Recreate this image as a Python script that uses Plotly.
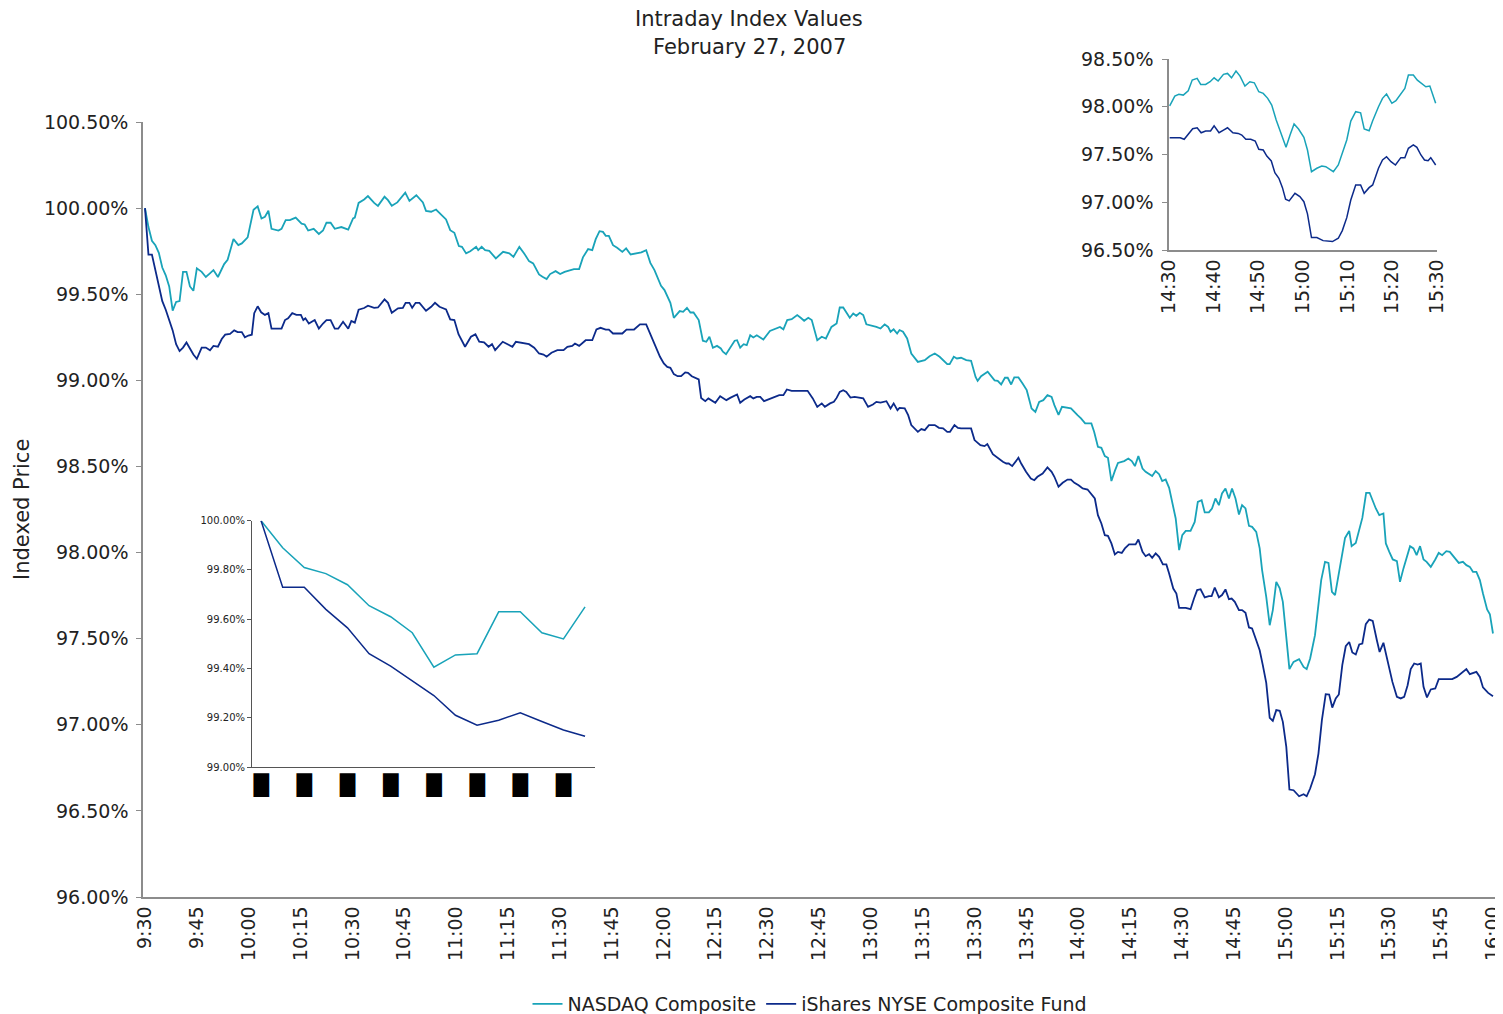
import plotly.graph_objects as go

# ---------------- data (minutes after 9:30, indexed value in %) ----------------
nasdaq_t = [0, 1, 2, 3, 4, 5, 6, 7, 8, 9, 10, 11, 12, 13, 14, 15,
            16.4, 17.6, 18.7, 19.8, 21.1, 22.9, 23.9, 25.6, 27, 28, 29.7, 31.4, 32.6, 33.7, 34.7, 35.7, 36.6, 38.6, 39.5,
            40.7, 41.9, 43.6, 45.3, 46.2, 47.2, 48.8, 50.3, 51.5, 52.5, 53.7, 54.9, 56.8, 58.8, 60.2, 60.7, 61.8, 63.4,
            64.5, 66.3, 67.4, 69.3, 70.3, 71.4, 73, 75.3, 76.5, 78.5, 80.4, 81.3, 82.8, 84.2, 85.7, 87.1, 88.3, 89.5,
            90.8, 91.7, 92.9, 94.1, 95.8, 96.4, 97.4, 98.4, 99.6, 101.5, 103.6, 105.4, 106.6, 108.3, 109.7, 111.1, 112.3,
            114, 115, 116.2, 117.2, 118.8, 120.1, 121.4, 124.1, 125.6, 126.7, 128.2, 129.4, 130.4, 131.5, 132.5, 133.3,
            134.2, 135.4, 136.6, 138.1, 139.2, 140.5, 142.4, 143.6, 145, 146.2, 147.4, 149.3, 150.3, 152, 153, 154.7,
            155.7, 156.8, 157.8, 158.7, 160.2, 161.4, 162.4, 163.3, 164.3, 165.5, 166.6, 167.2, 168.1, 169.1, 170.6,
            171.3, 172.2, 173.2, 174.1, 175.1, 176, 177, 178.9, 180.8, 182.3, 183.7, 184.7, 185.8, 187.1, 188.7, 189.7,
            190.7, 191.9, 192.9, 194.5, 195.8, 197, 198.6, 200.1, 201, 202, 202.9, 203.9, 204.9, 205.8, 206.8, 207.8,
            208.7, 210.6, 211.6, 212.8, 214, 215, 215.7, 216.6, 217.6, 218.3, 219.3, 220.5, 221.7, 223.6, 225.6, 227,
            228.5, 229.9, 232.1, 232.8, 234, 234.9, 236.1, 237.6, 239, 240.3, 240.9, 241.9, 243.8, 245.8, 246.7, 247.7,
            248.8, 249.6, 250.6, 251.5, 252.7, 253.9, 255.1, 256.5, 257.6, 258.7, 259.9, 261.1, 262.3, 263.1, 264.3,
            265.3, 267.9, 269.8, 270.8, 272, 273.8, 274.6, 275.7, 276.7, 277.7, 278.6, 279.6, 280.6, 281.5, 283.3,
            284.5, 285.5, 286.4, 287.4, 288.6, 289.5, 291.4, 292.4, 293.4, 294.3, 295.3, 296.3, 297.2, 298.2, 299.2,
            300.1, 301.1, 302.5, 303.7, 304.6, 305.7, 306.6, 307.8, 308.7, 309.7, 310.7, 311.6, 312.6, 313.6, 314.5,
            315.5, 316.5, 317.4, 318.4, 319.4, 320.3, 321.5, 322.5, 323.2, 324.4, 325.4, 326.3, 327.3, 328.3, 329.2,
            330, 331.1, 332.3, 333.9, 335.2, 336.1, 337.1, 338.5, 340.3, 341.4, 342.4, 343.4, 344.3, 345.8, 347.2,
            348.4, 349.1, 350.3, 352.2, 353.3, 354.3, 356.1, 357.1, 358.3, 359, 360, 361, 362.2, 363.1, 364.1, 366,
            367, 367.9, 368.9, 369.9, 370.8, 372, 373.3, 374.3, 375.3, 376.5, 377.5, 378.9, 380.1, 381.3, 382.3,
            383.3, 384.2, 385.2, 386.2, 387.1, 388.3, 389.1, 390]
nasdaq_v = [100.00, 99.89, 99.81, 99.785, 99.74, 99.655, 99.61, 99.545, 99.405, 99.455, 99.46, 99.63, 99.63, 99.545, 99.52, 99.65,
            99.63, 99.60, 99.62, 99.64, 99.60, 99.675, 99.70, 99.82, 99.785, 99.795, 99.83, 99.99, 100.01, 99.94, 99.95, 99.985, 99.88, 99.87, 99.88,
            99.93, 99.93, 99.945, 99.91, 99.905, 99.87, 99.88, 99.85, 99.87, 99.915, 99.915, 99.88, 99.89, 99.875, 99.94, 99.945, 100.03, 100.05,
            100.07, 100.03, 100.013, 100.066, 100.046, 100.013, 100.033, 100.09, 100.042, 100.075, 100.033, 99.984, 99.979, 99.992, 99.963, 99.934, 99.872, 99.857,
            99.78, 99.775, 99.737, 99.75, 99.775, 99.756, 99.775, 99.756, 99.752, 99.708, 99.746, 99.737, 99.717, 99.775, 99.737, 99.692, 99.679,
            99.615, 99.601, 99.588, 99.617, 99.634, 99.617, 99.63, 99.646, 99.646, 99.714, 99.762, 99.756, 99.82, 99.866, 99.862, 99.839,
            99.839, 99.785, 99.77, 99.746, 99.766, 99.731, 99.737, 99.743, 99.756, 99.682, 99.64, 99.549, 99.524, 99.45, 99.363, 99.402,
            99.398, 99.421, 99.394, 99.394, 99.35, 99.23, 99.224, 99.253, 99.189, 99.2, 99.185, 99.166, 99.152, 99.185, 99.23,
            99.233, 99.19, 99.21, 99.204, 99.262, 99.249, 99.262, 99.237, 99.287, 99.3, 99.31, 99.296, 99.35, 99.355, 99.379, 99.363,
            99.346, 99.363, 99.35, 99.233, 99.253, 99.243, 99.31, 99.33, 99.423, 99.423, 99.398, 99.363, 99.388, 99.375, 99.392, 99.379,
            99.325, 99.317, 99.31, 99.301, 99.325, 99.31, 99.282, 99.296, 99.272, 99.292, 99.282, 99.243, 99.156, 99.107, 99.117, 99.14,
            99.156, 99.137, 99.094, 99.094, 99.137, 99.127, 99.131, 99.117, 99.113, 99.02, 98.997, 99.024, 99.05, 99.0, 98.997, 98.976,
            99.015, 99.015, 98.976, 99.017, 99.017, 98.982, 98.943, 98.837, 98.817, 98.875, 98.885, 98.914, 98.904, 98.856, 98.8,
            98.846, 98.837, 98.798, 98.779, 98.75, 98.75, 98.701, 98.614, 98.608, 98.56, 98.55, 98.415, 98.474, 98.52, 98.531,
            98.546, 98.531, 98.502, 98.56, 98.488, 98.469, 98.444, 98.473, 98.455, 98.415, 98.424, 98.376, 98.285, 98.198, 98.014,
            98.101, 98.126, 98.126, 98.178, 98.294, 98.304, 98.233, 98.233, 98.256, 98.314, 98.275, 98.343, 98.372, 98.314, 98.372,
            98.314, 98.221, 98.275, 98.256, 98.155, 98.149, 98.12, 98.024, 97.898, 97.743, 97.578, 97.666, 97.83, 97.792, 97.714,
            97.549, 97.323, 97.365, 97.381, 97.336, 97.323, 97.385, 97.52, 97.84, 97.946, 97.94, 97.772, 97.753, 97.927, 98.085,
            98.126, 98.037, 98.056, 98.201, 98.347, 98.347, 98.256, 98.217, 98.227, 98.053, 98.004, 97.96, 97.95, 97.83, 97.908, 98.037,
            98.024, 97.985, 98.037, 97.96, 97.946, 97.917, 97.96, 97.998, 97.985, 98.008, 98.004, 97.966, 97.94, 97.946, 97.927,
            97.917, 97.888, 97.888, 97.84, 97.762, 97.67, 97.642, 97.53]

ishares_t = [0, 1, 2, 3, 4, 5, 6, 7, 8, 9, 10, 11, 12, 13, 14, 15,
             16.4, 17.6, 18.8, 19.8, 21.1, 22.2, 23.2, 24.6, 25.8, 26.8, 28, 28.9, 29.9, 30.9, 31.6, 32.6, 33.6, 34.7,
             35.7, 36.6, 39.5, 40.5, 41.4, 42.6, 43.8, 45.1, 45.8, 46.4, 47.4, 49.1, 50.3, 51.5, 52.5, 53.7, 54.9, 55.9,
             57.3, 58.8, 59.7, 60.7, 61.8, 63.4, 64.5, 66.3, 67.4, 69.3, 70.3, 71.4, 73.2, 74.6, 75.4, 76.5, 77.3, 78.3,
             79.4, 81.3, 82.8, 83.9, 85.2, 87.1, 88.3, 89.5, 90.7, 92.6, 94.3, 95.6, 96.7, 98.1, 99.4, 100.4, 101.3,
             103.5, 106.3, 107.3, 108.7, 111.1, 112.6, 114, 115.3, 116.2, 117.6, 119.3, 121.1, 122.2, 123.6, 124.4,
             125.6, 127.5, 129.4, 130.6, 131.8, 133.3, 134.2, 135.4, 138.1, 139.3, 141.5, 143.2, 145, 146.1, 147.5, 149,
             150.1, 151.1, 152, 153, 154.1, 155.1, 156.3, 157.1, 158.2, 160.2, 160.9, 162.1, 163, 165, 166.4, 168.2,
             169.3, 171.3, 172.2, 173.4, 175.1, 176, 177, 178, 179.1, 180.4, 181.8, 183.5, 184.7, 185.7, 187.1, 191.7,
             193.2, 194.5, 195.8, 196.7, 198.2, 199.3, 200.1, 201, 202, 202.9, 204.1, 205.3, 207.8, 209.2, 210.6, 211.6,
             212.8, 214.5, 215.7, 216.6, 217.7, 218.3, 219.8, 220.8, 221.7, 223.6, 224.6, 225.6, 226.8, 228.5, 229.7,
             230.9, 232.1, 232.9, 234.2, 235.2, 236.1, 239, 240, 241.7, 242.9, 243.7, 245.3, 246.6, 248.2, 249.2, 249.9,
             250.9, 251.9, 252.7, 253.5, 254.9, 256.3, 257.3, 258.2, 259.7, 261.1, 262.3, 263.1, 264.3, 265.5, 266.9,
             267.9, 268.9, 270.1, 271.3, 272.7, 273.7, 274.8, 275.7, 276.7, 277.7, 278.6, 279.6, 280.6, 281.5, 282.6,
             283.5, 284.7, 286.6, 287.4, 288.6, 289.5, 290.5, 291.4, 292.4, 293.4, 294.5, 295.5, 296.3, 297.5, 298.4,
             299.2, 301.1, 302.5, 303.5, 304.4, 305.4, 306.6, 307.8, 308.6, 309.5, 310.7, 311.6, 312.6, 313.6, 314.4,
             315.3, 316.5, 317.4, 318.4, 319.4, 320.3, 321.5, 322.5, 323.4, 324.4, 325.4, 326.3, 327.3, 328.3, 329.2,
             330.2, 331.1, 332.3, 333.9, 335.2, 336.1, 337.1, 338.5, 339.5, 340.5, 341.6, 342.6, 343.5, 344.5, 345.4,
             346.4, 347.4, 348.4, 349.3, 350.3, 351.3, 352.2, 353.2, 354.2, 355.2, 356.4, 357.2, 358.3, 359.6, 360.9,
             362.2, 363.3, 364.3, 365.3, 366.2, 367.2, 368.2, 369.1, 369.9, 370.9, 372, 373.3, 374.3, 378.2, 379.5,
             380.7, 382.3, 383.3, 385.2, 386.2, 387.1, 388.6, 390]
ishares_v = [100.0, 99.73, 99.73, 99.64, 99.565, 99.46, 99.41, 99.35, 99.29, 99.21, 99.17, 99.19, 99.22, 99.185, 99.15, 99.125,
             99.19, 99.19, 99.175, 99.20, 99.195, 99.24, 99.265, 99.27, 99.29, 99.28, 99.28, 99.25, 99.26, 99.265, 99.39, 99.43, 99.395, 99.38,
             99.39, 99.30, 99.30, 99.35, 99.36, 99.39, 99.38, 99.38, 99.35, 99.36, 99.33, 99.35, 99.30, 99.33, 99.35, 99.35, 99.30, 99.30,
             99.34, 99.30, 99.345, 99.335, 99.41, 99.42, 99.433, 99.421, 99.423, 99.47, 99.45, 99.392, 99.418, 99.421, 99.45, 99.45, 99.421, 99.45,
             99.45, 99.404, 99.427, 99.45, 99.427, 99.412, 99.354, 99.35, 99.268, 99.195, 99.253, 99.267, 99.224, 99.22, 99.195, 99.21, 99.175,
             99.224, 99.195, 99.224, 99.22, 99.21, 99.189, 99.156, 99.15, 99.137, 99.16, 99.175, 99.175, 99.195, 99.2, 99.214,
             99.2, 99.233, 99.233, 99.295, 99.305, 99.295, 99.295, 99.272, 99.272, 99.295, 99.295, 99.325, 99.325, 99.272, 99.21, 99.137,
             99.098, 99.078, 99.073, 99.036, 99.024, 99.024, 99.046, 99.044, 99.024, 99.005, 98.898, 98.879, 98.895, 98.87, 98.908, 98.885,
             98.898, 98.918, 98.87, 98.889, 98.908, 98.895, 98.904, 98.904, 98.879, 98.889, 98.898, 98.914, 98.914, 98.947, 98.939, 98.939,
             98.895, 98.846, 98.866, 98.846, 98.866, 98.875, 98.898, 98.933, 98.943, 98.933, 98.9, 98.904, 98.895, 98.846, 98.86, 98.875,
             98.871, 98.879, 98.837, 98.866, 98.827, 98.84, 98.837, 98.798, 98.74, 98.701, 98.717, 98.711, 98.74, 98.74, 98.724,
             98.721, 98.701, 98.701, 98.74, 98.724, 98.721, 98.721, 98.653, 98.624, 98.618, 98.63, 98.571, 98.55, 98.527, 98.517, 98.517,
             98.502, 98.527, 98.55, 98.517, 98.469, 98.43, 98.42, 98.44, 98.459, 98.494, 98.469, 98.44, 98.382, 98.405, 98.424,
             98.424, 98.405, 98.391, 98.372, 98.366, 98.343, 98.314, 98.217, 98.169, 98.101, 98.097, 98.053, 97.989, 98.004, 97.998,
             98.024, 98.047, 98.047, 98.076, 98.004, 97.979, 97.991, 97.969, 97.995, 97.975, 97.931, 97.931, 97.878, 97.791, 97.762,
             97.679, 97.679, 97.671, 97.733, 97.782, 97.787, 97.74, 97.747, 97.747, 97.797, 97.74, 97.753, 97.786, 97.729, 97.733,
             97.714, 97.666, 97.666, 97.65, 97.565, 97.559, 97.491, 97.433, 97.346, 97.243, 97.04, 97.023, 97.085, 97.081, 97.017,
             96.872, 96.624, 96.62, 96.585, 96.597, 96.585, 96.63, 96.713, 96.833, 97.027, 97.178, 97.176, 97.1, 97.153, 97.176,
             97.346, 97.456, 97.481, 97.42, 97.408, 97.466, 97.472, 97.584, 97.611, 97.603, 97.491, 97.423, 97.476, 97.356, 97.249,
             97.162, 97.153, 97.162, 97.23, 97.323, 97.356, 97.35, 97.356, 97.22, 97.159, 97.205, 97.211, 97.265, 97.265, 97.278,
             97.297, 97.323, 97.294, 97.307, 97.278, 97.217, 97.185, 97.166]

main_tickvals = list(range(0, 391, 15))
main_ticktext = ["9:30", "9:45", "10:00", "10:15", "10:30", "10:45", "11:00", "11:15", "11:30", "11:45",
                 "12:00", "12:15", "12:30", "12:45", "13:00", "13:15", "13:30", "13:45", "14:00", "14:15",
                 "14:30", "14:45", "15:00", "15:15", "15:30", "15:45", "16:00"]
main_yticks = [96.0, 96.5, 97.0, 97.5, 98.0, 98.5, 99.0, 99.5, 100.0, 100.5]
main_yticktext = ["96.00%", "96.50%", "97.00%", "97.50%", "98.00%", "98.50%", "99.00%", "99.50%", "100.00%", "100.50%"]

# inset (top right): 14:30 - 15:30, minutes after 9:30
zoom_nasdaq_t = [300.15, 301.3, 302.2, 303.2, 304.3, 305.2, 306.3, 307.1, 308.2, 309.2, 310.1, 311.0, 312.2, 313.1,
                 314.0, 315.0, 315.9, 317.0, 318.1, 319.1, 320.1, 321.1, 322.1, 323.0, 324.0, 324.9, 326.2, 327.1,
                 328.0, 329.0, 330.2, 331.0, 331.9, 333.1, 334.2, 335.1, 336.0, 336.8, 337.9, 338.8, 339.8, 340.7,
                 341.8, 342.9, 343.7, 344.8, 345.6, 346.9, 347.8, 348.7, 349.9, 350.8, 351.9, 352.8, 353.6, 354.7,
                 355.6, 356.6, 357.5, 358.4, 359.0, 359.7]
zoom_nasdaq_v = [98.01, 98.112, 98.13, 98.122, 98.167, 98.279, 98.297, 98.234, 98.234, 98.262, 98.303, 98.269, 98.339, 98.349,
                 98.303, 98.373, 98.321, 98.217, 98.262, 98.251, 98.157, 98.14, 98.088, 98.018, 97.861, 97.749, 97.575, 97.704,
                 97.819, 97.767, 97.68, 97.547, 97.32, 97.356, 97.38, 97.372, 97.345, 97.32, 97.39, 97.519, 97.652, 97.85,
                 97.948, 97.937, 97.767, 97.749, 97.854, 98.0, 98.088, 98.133, 98.036, 98.063, 98.13, 98.192, 98.332, 98.332,
                 98.279, 98.245, 98.209, 98.217, 98.122, 98.036]
zoom_ishares_t = [300.15, 302.5, 303.4, 304.3, 305.3, 306.3, 307.2, 308.2, 309.3, 310.1, 311.2, 312.2, 313.1, 314.3,
                  315.5, 316.3, 317.2, 318.3, 319.3, 320.1, 321.1, 321.9, 322.9, 323.7, 324.6, 325.4, 326.1, 326.9,
                  328.2, 329.3, 330.2, 331.0, 331.9, 333.1, 334.5, 336.6, 337.9, 338.8, 339.8, 340.7, 341.8, 342.9,
                  343.7, 344.8, 345.6, 346.9, 347.8, 348.7, 349.7, 350.7, 351.9, 352.8, 353.6, 354.7, 355.5, 356.4,
                  357.2, 358.0, 358.6, 359.7]
zoom_ishares_v = [97.676, 97.676, 97.659, 97.714, 97.77, 97.78, 97.728, 97.746, 97.746, 97.801, 97.728, 97.756, 97.78, 97.728,
                  97.721, 97.704, 97.659, 97.659, 97.641, 97.554, 97.547, 97.484, 97.432, 97.31, 97.251, 97.153, 97.031, 97.014,
                  97.094, 97.059, 97.006, 96.878, 96.63, 96.63, 96.598, 96.588, 96.623, 96.703, 96.839, 97.024, 97.181, 97.181,
                  97.094, 97.153, 97.181, 97.356, 97.442, 97.477, 97.425, 97.39, 97.467, 97.467, 97.565, 97.6, 97.575, 97.495,
                  97.442, 97.435, 97.467, 97.39]
zoom_tickvals = [300, 310, 320, 330, 340, 350, 360]
zoom_ticktext = ["14:30", "14:40", "14:50", "15:00", "15:10", "15:20", "15:30"]
zoom_yticks = [96.5, 97.0, 97.5, 98.0, 98.5]
zoom_yticktext = ["96.50%", "97.00%", "97.50%", "98.00%", "98.50%"]

# inset (bottom left): first 15 minutes, one point per minute
open_idx = list(range(16))
open_nasdaq = [100.00, 99.89, 99.81, 99.785, 99.74, 99.655, 99.61, 99.545, 99.405, 99.455, 99.46, 99.63, 99.63, 99.545, 99.52, 99.65]
open_ishares = [100.00, 99.73, 99.73, 99.64, 99.565, 99.46, 99.41, 99.35, 99.29, 99.21, 99.17, 99.19, 99.22, 99.185, 99.15, 99.125]
open_tickvals = [0, 2, 4, 6, 8, 10, 12, 14]
open_ticktext = ["\u2588"] * 8
open_yticks = [99.0, 99.2, 99.4, 99.6, 99.8, 100.0]
open_yticktext = ["99.00%", "99.20%", "99.40%", "99.60%", "99.80%", "100.00%"]

TEAL = "#19a3b9"
NAVY = "#0c2a8a"
FONT = "DejaVu Sans"
OFF = 8                      # page body margin of the html page
W, H = 1503 - OFF, 1014 - OFF


def px_x(a, b):
    return [(a - OFF) / W, (b - OFF) / W]


def px_y(top, bottom):
    return [1 - (bottom - OFF) / H, 1 - (top - OFF) / H]


def fx(a):
    return (a - OFF) / W


def fy(a):
    return 1 - (a - OFF) / H


fig = go.Figure()
fig.add_trace(go.Scatter(x=nasdaq_t, y=nasdaq_v, mode="lines", name="NASDAQ Composite",
                         line=dict(color=TEAL, width=1.8), xaxis="x", yaxis="y"))
fig.add_trace(go.Scatter(x=ishares_t, y=ishares_v, mode="lines", name="iShares NYSE Composite Fund",
                         line=dict(color=NAVY, width=1.8), xaxis="x", yaxis="y"))
fig.add_trace(go.Scatter(x=zoom_nasdaq_t, y=zoom_nasdaq_v, mode="lines", showlegend=False,
                         line=dict(color=TEAL, width=1.5), xaxis="x2", yaxis="y2"))
fig.add_trace(go.Scatter(x=zoom_ishares_t, y=zoom_ishares_v, mode="lines", showlegend=False,
                         line=dict(color=NAVY, width=1.5), xaxis="x2", yaxis="y2"))
fig.add_trace(go.Scatter(x=open_idx, y=open_nasdaq, mode="lines", showlegend=False,
                         line=dict(color=TEAL, width=1.5), xaxis="x3", yaxis="y3"))
fig.add_trace(go.Scatter(x=open_idx, y=open_ishares, mode="lines", showlegend=False,
                         line=dict(color=NAVY, width=1.5), xaxis="x3", yaxis="y3"))

axcol = "#8c8c8c"
common = dict(showgrid=False, zeroline=False, showline=True, linecolor=axcol, linewidth=1.5,
              tickfont=dict(family=FONT, size=19, color="#222"), automargin=False,
              ticklabeloverflow="allow")

fig.update_layout(
    width=W, height=H,
    margin=dict(l=0, r=0, t=0, b=0, autoexpand=False),
    paper_bgcolor="white", plot_bgcolor="white",
    font=dict(family=FONT, color="#222"),
    xaxis=dict(domain=px_x(143, 1497), range=[-0.58, 391.16], tickvals=main_tickvals, ticktext=main_ticktext,
               tickangle=-90, ticks="", anchor="y", **common),
    yaxis=dict(domain=px_y(122, 897), range=[96, 100.5], tickvals=main_yticks, ticktext=main_yticktext,
               ticks="outside", ticklen=5, tickcolor=axcol, ticklabelstandoff=4, anchor="x", **common),
    xaxis2=dict(domain=px_x(1169, 1437), range=[300, 360], tickvals=zoom_tickvals, ticktext=zoom_ticktext,
                tickangle=-90, ticks="", anchor="y2", **common),
    yaxis2=dict(domain=px_y(59, 250), range=[96.5, 98.5], tickvals=zoom_yticks, ticktext=zoom_yticktext,
                ticks="outside", ticklen=5, tickcolor=axcol, ticklabelstandoff=5, anchor="x2", **common),
    xaxis3=dict(domain=px_x(252, 595), range=[-0.42, 15.46], tickvals=open_tickvals, ticktext=open_ticktext,
                tickangle=0, ticks="", anchor="y3", showgrid=False, zeroline=False, showline=True,
                linecolor="#555", linewidth=1, automargin=False,
                tickfont=dict(family=FONT, size=20, color="black")),
    yaxis3=dict(domain=px_y(520.7, 767), range=[99, 100], tickvals=open_yticks, ticktext=open_yticktext,
                ticks="outside", ticklen=4, tickcolor="#555", anchor="x3", showgrid=False,
                zeroline=False, showline=True, linecolor="#555", linewidth=1, automargin=False,
                tickfont=dict(family=FONT, size=10, color="#222")),
    legend=dict(orientation="h", x=fx(810), xanchor="center", y=fy(1004), yanchor="middle",
                font=dict(family=FONT, size=19, color="#222"), bgcolor="rgba(0,0,0,0)"),
    annotations=[
        dict(text="Intraday Index Values", x=fx(749), y=fy(19), xref="paper", yref="paper",
             xanchor="center", yanchor="middle", showarrow=False,
             font=dict(family=FONT, size=21, color="#222")),
        dict(text="February 27, 2007", x=fx(749), y=fy(47), xref="paper", yref="paper",
             xanchor="center", yanchor="middle", showarrow=False,
             font=dict(family=FONT, size=21, color="#222")),
        dict(text="Indexed Price", x=fx(22), y=fy(510), xref="paper", yref="paper",
             xanchor="center", yanchor="middle", textangle=-90, showarrow=False,
             font=dict(family=FONT, size=21, color="#222")),
    ],
)

fig.write_html("out.html")
